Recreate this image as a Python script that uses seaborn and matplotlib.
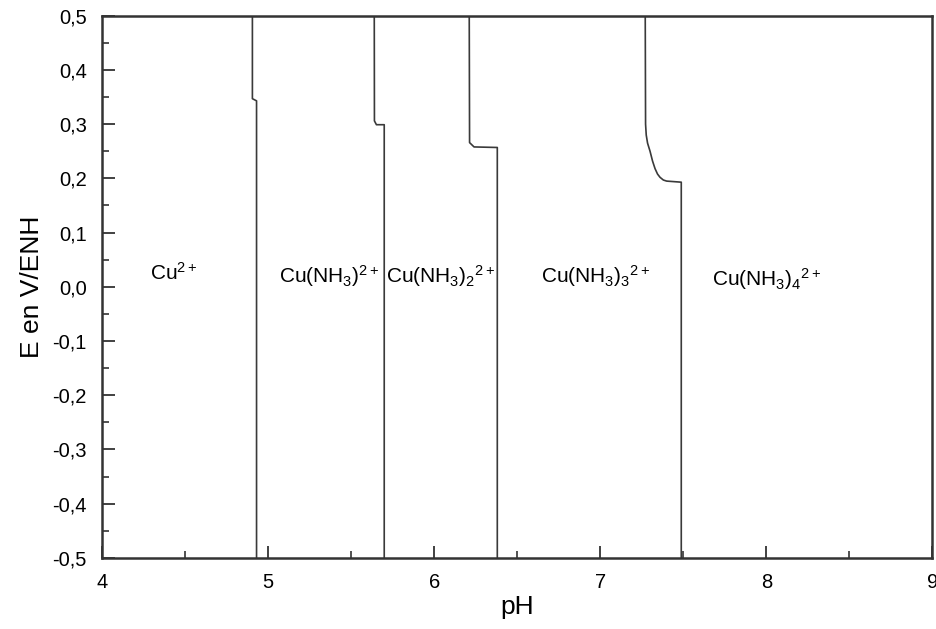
import matplotlib
matplotlib.use("Agg")
import matplotlib.pyplot as plt
from matplotlib.ticker import MultipleLocator, FuncFormatter
import seaborn as sns
import pandas as pd

# boundary lines of the diagram (pH, E in V/ENH)
b1_ph = [4.905, 4.905, 4.930, 4.930]
b1_e = [0.50, 0.347, 0.343, -0.50]
b2_ph = [5.639, 5.640, 5.652, 5.699, 5.699]
b2_e = [0.50, 0.306, 0.299, 0.299, -0.50]
b3_ph = [6.211, 6.213, 6.240, 6.380, 6.380]
b3_e = [0.50, 0.266, 0.258, 0.257, -0.50]
b4_ph = [7.271, 7.273, 7.277, 7.285, 7.300, 7.315, 7.330, 7.345, 7.360, 7.380, 7.400, 7.488, 7.488]
b4_e = [0.50, 0.30, 0.28, 0.265, 0.250, 0.232, 0.218, 0.208, 0.202, 0.197, 0.195, 0.193, -0.50]

species = [r"Cu$^{2+}$", r"Cu(NH$_3$)$^{2+}$", r"Cu(NH$_3$)$_2$$^{2+}$",
           r"Cu(NH$_3$)$_3$$^{2+}$", r"Cu(NH$_3$)$_4$$^{2+}$"]
species_ph = [4.43, 5.37, 6.04, 6.97, 8.00]
species_e = [0.025, 0.02, 0.02, 0.02, 0.015]

rows = []
for k, (xs, ys) in enumerate([(b1_ph, b1_e), (b2_ph, b2_e), (b3_ph, b3_e), (b4_ph, b4_e)]):
    for i, (x, y) in enumerate(zip(xs, ys)):
        rows.append({"b": k, "i": i, "pH": x, "E": y})
df = pd.DataFrame(rows)

sns.set_style("ticks")
plt.rcParams["font.family"] = ["Liberation Sans", "DejaVu Sans"]
plt.rcParams["mathtext.fontset"] = "custom"
plt.rcParams["mathtext.rm"] = "Liberation Sans"
plt.rcParams["mathtext.it"] = "Liberation Sans"

fig = plt.figure(figsize=(9.37, 6.29), dpi=100)
ax = fig.add_axes([0.109, 0.113, 0.886, 0.862])

sns.lineplot(data=df, x="pH", y="E", units="b", estimator=None, sort=False,
             color="#3a3a3a", linewidth=1.2, ax=ax)

for t, x, y in zip(species, species_ph, species_e):
    ax.text(x, y, t, ha="center", va="center", fontsize=15, color="black")

ax.set_xlim(4, 9)
ax.set_ylim(-0.5, 0.5)
ax.xaxis.set_major_locator(MultipleLocator(1))
ax.xaxis.set_minor_locator(MultipleLocator(0.5))
ax.yaxis.set_major_locator(MultipleLocator(0.1))
ax.yaxis.set_minor_locator(MultipleLocator(0.05))
ax.yaxis.set_major_formatter(FuncFormatter(lambda v, p: f"{v:.1f}".replace(".", ",").replace("-0,0", "0,0")))
ax.tick_params(which="major", direction="in", length=9, width=1.3, color="#333333",
               labelsize=14.5, labelcolor="black", pad=11, top=False, right=False)
ax.tick_params(which="minor", direction="in", length=5, width=1.2, color="#333333",
               top=False, right=False)
for s in ax.spines.values():
    s.set_linewidth(1.8)
    s.set_color("#333333")

ax.set_xlabel("pH", fontsize=19, labelpad=2, color="black")
ax.set_ylabel("E en V/ENH", fontsize=19, labelpad=6, color="black")

fig.savefig("out.png", dpi=100)
